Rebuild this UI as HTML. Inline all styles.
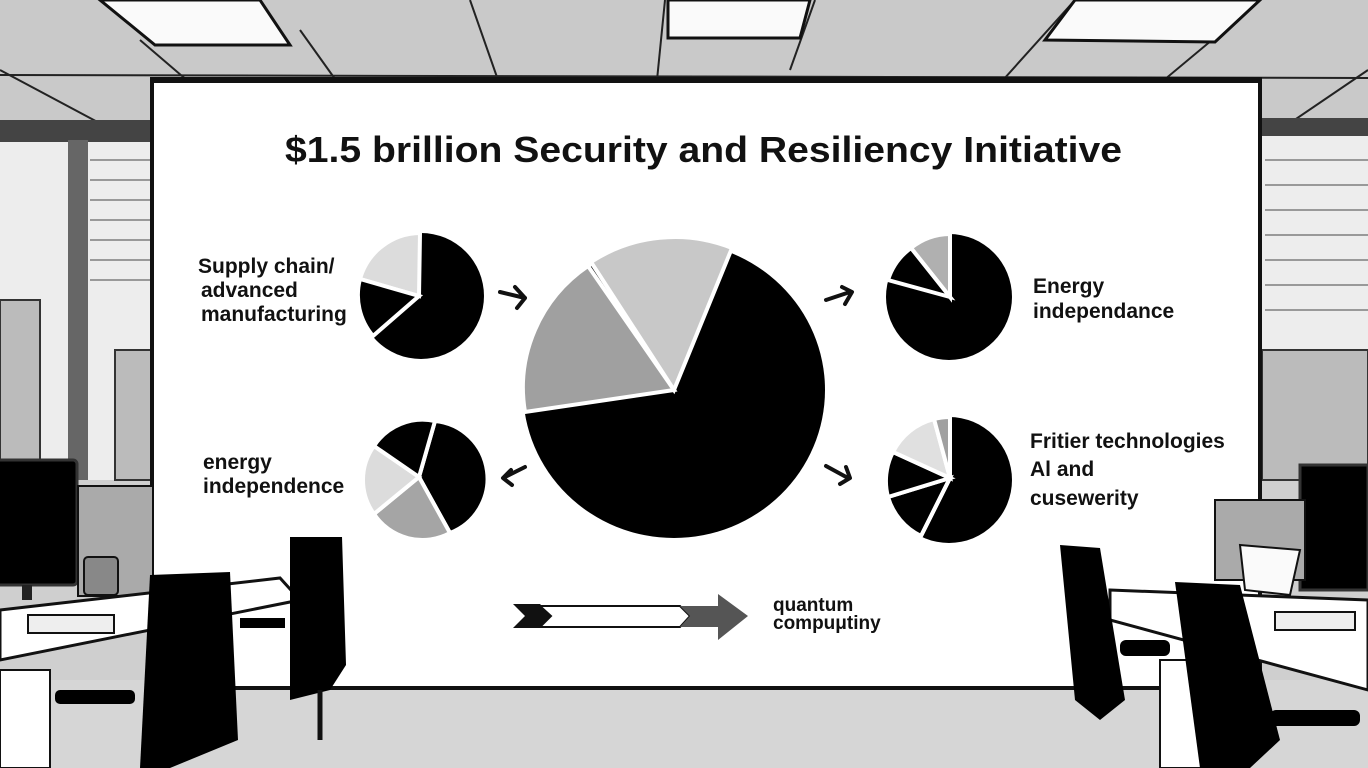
<!DOCTYPE html>
<html><head><meta charset="utf-8"><style>
html,body{margin:0;padding:0;background:#cfcfcf;}
svg{display:block}
text{font-family:"Liberation Sans",sans-serif;font-weight:bold;fill:#111}
</style></head><body>
<svg width="1368" height="768" viewBox="0 0 1368 768" xmlns="http://www.w3.org/2000/svg">
<rect x="0" y="0" width="1368" height="140" fill="#c9c9c9"/>
<g stroke="#222" stroke-width="2" fill="none">
<line x1="0" y1="75" x2="1368" y2="78"/>
<line x1="140" y1="40" x2="210" y2="100"/>
<line x1="300" y1="30" x2="350" y2="100"/>
<line x1="470" y1="0" x2="505" y2="100"/>
<line x1="665" y1="0" x2="655" y2="100"/>
<line x1="815" y1="0" x2="790" y2="70"/>
<line x1="1075" y1="0" x2="985" y2="100"/>
<line x1="1260" y1="0" x2="1140" y2="100"/>
<line x1="0" y1="70" x2="150" y2="150"/>
<line x1="1368" y1="70" x2="1265" y2="140"/>
</g>
<g fill="#fafafa" stroke="#111" stroke-width="3">
<polygon points="100,0 260,0 290,45 155,45"/>
<polygon points="668,0 810,0 800,38 668,38"/>
<polygon points="1075,0 1260,0 1215,42 1045,40"/>
</g>
<rect x="0" y="140" width="152" height="340" fill="#ededed"/>
<rect x="0" y="120" width="152" height="22" fill="#444"/>
<rect x="68" y="140" width="20" height="340" fill="#666"/>
<g stroke="#999" stroke-width="2">
<line x1="90" y1="160" x2="150" y2="160"/><line x1="90" y1="180" x2="150" y2="180"/><line x1="90" y1="200" x2="150" y2="200"/><line x1="90" y1="220" x2="150" y2="220"/><line x1="90" y1="240" x2="150" y2="240"/><line x1="90" y1="260" x2="150" y2="260"/><line x1="90" y1="280" x2="150" y2="280"/>
</g>
<rect x="0" y="300" width="40" height="180" fill="#bbb" stroke="#333" stroke-width="2"/>
<rect x="115" y="350" width="37" height="130" fill="#bbb" stroke="#333" stroke-width="2"/>
<rect x="1262" y="120" width="106" height="360" fill="#ededed"/>
<rect x="1262" y="118" width="106" height="18" fill="#444"/>
<g stroke="#999" stroke-width="2">
<line x1="1265" y1="160" x2="1368" y2="160"/><line x1="1265" y1="185" x2="1368" y2="185"/><line x1="1265" y1="210" x2="1368" y2="210"/><line x1="1265" y1="235" x2="1368" y2="235"/><line x1="1265" y1="260" x2="1368" y2="260"/><line x1="1265" y1="285" x2="1368" y2="285"/><line x1="1265" y1="310" x2="1368" y2="310"/>
</g>
<rect x="1262" y="350" width="106" height="130" fill="#bbb" stroke="#333" stroke-width="2"/>
<rect x="0" y="680" width="1368" height="88" fill="#d6d6d6"/>
<rect x="152" y="80" width="1108" height="608" fill="#fff" stroke="#111" stroke-width="4"/>
<line x1="150" y1="80" x2="1262" y2="80" stroke="#111" stroke-width="6"/>
<text x="285" y="162" font-size="36" textLength="837" lengthAdjust="spacingAndGlyphs">$1.5 brillion Security and Resiliency Initiative</text>

<g stroke="#fff" stroke-width="4" stroke-linejoin="miter">
<circle cx="421" cy="296" r="63" fill="#000" stroke="none"/>
<path d="M419,296 L360,279 A63,63 0 0 1 420,233 Z" fill="#dcdcdc"/>
<path d="M419,296 L360,279 A63,63 0 0 0 373,336 Z" fill="#000"/>
<ellipse cx="674" cy="390" rx="151" ry="148" fill="#000" stroke="none"/>
<path d="M674,390 L525,412 A151,148 0 0 1 588,266 Z" fill="#a0a0a0"/>
<path d="M674,390 L591,262 A151,148 0 0 1 732,248 Z" fill="#c8c8c8"/>
<circle cx="949" cy="297" r="63" fill="#000" stroke="none"/>
<path d="M950,297 L950,234 A63,63 0 0 0 911,248 Z" fill="#b0b0b0"/>
<path d="M950,297 L911,248 A63,63 0 0 0 888,280 Z" fill="#000"/>
<circle cx="428" cy="479" r="58" fill="#000" stroke="none"/>
<path d="M419,477 L435,421 A58,58 0 0 1 450,533 Z" fill="#000"/>
<path d="M419,477 L450,533 A58,58 0 0 1 374,514 Z" fill="#a5a5a5"/>
<path d="M419,477 L374,514 A58,58 0 0 1 374,446 Z" fill="#dcdcdc"/>
<path d="M419,477 L374,446 A58,58 0 0 1 435,421 Z" fill="#000"/>
<circle cx="949" cy="480" r="63" fill="#000" stroke="none"/>
<path d="M950,478 L921,536 A63,63 0 0 1 888,497 Z" fill="#000"/>
<path d="M950,478 L888,497 A63,63 0 0 1 893,452 Z" fill="#000"/>
<path d="M950,478 L893,452 A63,63 0 0 1 934,419 Z" fill="#e0e0e0"/>
<path d="M950,478 L934,419 A63,63 0 0 1 950,417 Z" fill="#a0a0a0"/>
<path d="M950,417 L950,478 L921,536" fill="none"/>
</g>

<g stroke="#111" stroke-width="4" fill="none" stroke-linecap="round" stroke-linejoin="round">
<path d="M500,292 L525,298 M515,287 L525,298 L517,308"/>
<path d="M826,300 L850,292 M842,287 L852,292 L845,304"/>
<path d="M525,467 L503,478 M511,470 L503,478 L512,485"/>
<path d="M826,466 L848,478 M846,467 L850,478 L840,484"/>
</g>

<polygon points="513,604 540,604 552,616 540,628 513,628 525,616" fill="#111"/>
<polygon points="540,606 680,606 690,616 680,627 540,627 551,616" fill="#fff" stroke="#111" stroke-width="2"/>
<polygon points="680,606 718,606 718,594 748,616 718,640 718,627 680,627 690,616" fill="#555"/>

<text x="198" y="273" font-size="21">Supply chain/</text>
<text x="201" y="297" font-size="21">advanced</text>
<text x="201" y="321" font-size="21">manufacturing</text>
<text x="203" y="469" font-size="21" font-weight="normal">energy</text>
<text x="203" y="493" font-size="21" font-weight="normal">independence</text>
<text x="1033" y="293" font-size="21">Energy</text>
<text x="1033" y="318" font-size="21" font-weight="normal">independance</text>
<text x="1030" y="448" font-size="21">Fritier technologies</text>
<text x="1030" y="476" font-size="21">Al and</text>
<text x="1030" y="505" font-size="21">cusewerity</text>
<text x="773" y="611" font-size="19">quantum</text>
<text x="773" y="629" font-size="19">compuμtiny</text>

<rect x="-5" y="460" width="82" height="125" fill="#000" stroke="#333" stroke-width="3" rx="4"/>
<rect x="78" y="486" width="75" height="110" fill="#aaa" stroke="#111" stroke-width="2"/>
<rect x="22" y="585" width="10" height="15" fill="#222"/>
<polygon points="0,610 280,578 300,600 0,660" fill="#fff" stroke="#111" stroke-width="3"/>
<rect x="84" y="557" width="34" height="38" fill="#888" stroke="#111" stroke-width="2" rx="4"/>
<rect x="28" y="615" width="86" height="18" fill="#eee" stroke="#111" stroke-width="2"/>
<rect x="0" y="670" width="50" height="98" fill="#fff" stroke="#111" stroke-width="2"/>
<path d="M290,537 L342,537 L346,665 L330,690 L290,700 Z" fill="#000"/>
<rect x="240" y="618" width="45" height="10" fill="#000"/>
<line x1="320" y1="690" x2="320" y2="740" stroke="#111" stroke-width="5"/>
<path d="M150,575 L230,572 L238,740 L170,768 L140,768 Z" fill="#000"/>
<rect x="55" y="690" width="80" height="14" fill="#000" rx="5"/>
<rect x="1300" y="465" width="68" height="125" fill="#000" stroke="#333" stroke-width="3"/>
<rect x="1215" y="500" width="90" height="80" fill="#aaa" stroke="#111" stroke-width="2"/>
<polygon points="1240,545 1300,550 1290,595 1245,590" fill="#fafafa" stroke="#111" stroke-width="2"/>
<polygon points="1110,590 1368,600 1368,690 1110,620" fill="#fff" stroke="#111" stroke-width="3"/>
<rect x="1275" y="612" width="80" height="18" fill="#eee" stroke="#111" stroke-width="2"/>
<path d="M1060,545 L1100,548 L1125,700 L1100,720 L1075,700 Z" fill="#000"/>
<rect x="1120" y="640" width="50" height="16" fill="#000" rx="6"/>
<rect x="1160" y="660" width="70" height="108" fill="#fff" stroke="#111" stroke-width="2"/>
<path d="M1175,582 L1240,585 L1280,740 L1250,768 L1200,768 Z" fill="#000"/>
<rect x="1270" y="710" width="90" height="16" fill="#000" rx="6"/>
</svg>
</body></html>
